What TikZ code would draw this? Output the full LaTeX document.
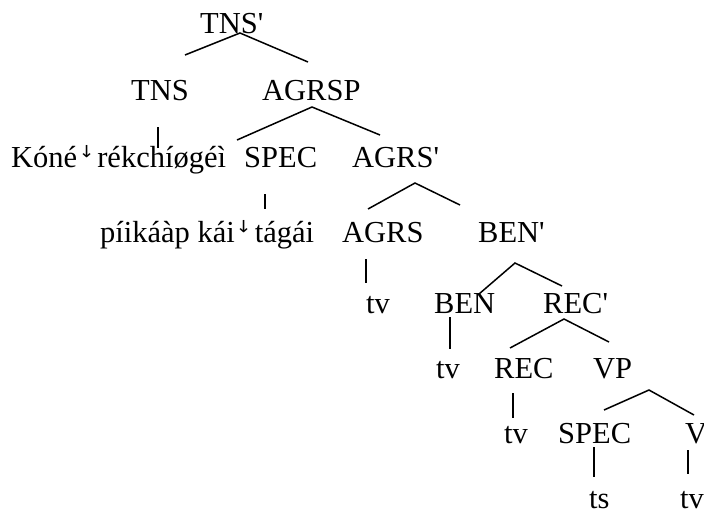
\documentclass[tikz,border=0pt]{standalone}
\usepackage{fontspec}
\setmainfont{Liberation Serif}
\newfontfamily\dvsans{DejaVu Sans}
\newcommand{\dstep}{\hspace{4pt}{\dvsans\fontsize{30}{30}\selectfont ꜜ}\hspace{5pt}}

\tikzset{
  lbl/.style={anchor=base west,inner sep=0pt,font=\fontsize{30.5}{36}\selectfont},
  br/.style={line width=1.5pt}
}

\begin{document}
\begin{tikzpicture}[x=1pt,y=-1pt]
\path[use as bounding box] (0,0) rectangle (704,515);
% labels
\node[lbl] (tnsp) at (200,33) {TNS\textquotesingle};
\node[lbl] (tns) at (131,100) {TNS};
\node[lbl] (agrsp) at (262,100) {AGRSP};
\node[lbl] (kone) at (11,167) {Kóné\dstep rékchíøgéì};
\node[lbl] (spec1) at (244,167) {SPEC};
\node[lbl] (agrsbar) at (352,167) {AGRS\textquotesingle};
\node[lbl] (piik) at (100,242) {píikáàp kái\dstep tágái};
\node[lbl] (agrs) at (342,242) {AGRS};
\node[lbl] (benbar) at (478,242) {BEN\textquotesingle};
\node[lbl] (tv1) at (366,313) {tv};
\node[lbl] (ben) at (434,313) {BEN};
\node[lbl] (recbar) at (543,313) {REC\textquotesingle};
\node[lbl] (tv2) at (436,378) {tv};
\node[lbl] (rec) at (494,378) {REC};
\node[lbl] (vp) at (593,378) {VP};
\node[lbl] (tv3) at (504,443) {tv};
\node[lbl] (spec2) at (558,443) {SPEC};
\node[lbl] (vbar) at (685,443) {V\textquotesingle};
\node[lbl] (ts) at (589,508) {ts};
\node[lbl] (tv4) at (680,508) {tv};
% branch points
\coordinate (tnsp-l) at (185,55);
\coordinate (tnsp-t) at (240,33);
\coordinate (tnsp-r) at (308,62);
\coordinate (tns-t) at (158,127);
\coordinate (tns-b) at (158,148);
\coordinate (agrsp-l) at (237,140);
\coordinate (agrsp-t) at (312,107);
\coordinate (agrsp-r) at (380,135);
\coordinate (spec1-t) at (265,194);
\coordinate (spec1-b) at (265,209);
\coordinate (agrsbar-l) at (368,209);
\coordinate (agrsbar-t) at (415,183);
\coordinate (agrsbar-r) at (460,205);
\coordinate (agrs-t) at (366,259);
\coordinate (agrs-b) at (366,283);
\coordinate (benbar-l) at (479,294);
\coordinate (benbar-t) at (515,263);
\coordinate (benbar-r) at (562,286);
\coordinate (ben-t) at (450,317);
\coordinate (ben-b) at (450,349);
\coordinate (recbar-l) at (510,348);
\coordinate (recbar-t) at (564,319);
\coordinate (recbar-r) at (609,342);
\coordinate (rec-t) at (513,393);
\coordinate (rec-b) at (513,418);
\coordinate (vp-l) at (604,410);
\coordinate (vp-t) at (649,390);
\coordinate (vp-r) at (694,415);
\coordinate (spec2-t) at (594,447);
\coordinate (spec2-b) at (594,477);
\coordinate (vbar-t) at (688,450);
\coordinate (vbar-b) at (688,474);
% branches
\draw[br] (tnsp-l) -- (tnsp-t) -- (tnsp-r);
\draw[br] (tns-t) -- (tns-b);
\draw[br] (agrsp-l) -- (agrsp-t) -- (agrsp-r);
\draw[br] (spec1-t) -- (spec1-b);
\draw[br] (agrsbar-l) -- (agrsbar-t) -- (agrsbar-r);
\draw[br] (agrs-t) -- (agrs-b);
\draw[br] (benbar-l) -- (benbar-t) -- (benbar-r);
\draw[br] (ben-t) -- (ben-b);
\draw[br] (recbar-l) -- (recbar-t) -- (recbar-r);
\draw[br] (rec-t) -- (rec-b);
\draw[br] (vp-l) -- (vp-t) -- (vp-r);
\draw[br] (spec2-t) -- (spec2-b);
\draw[br] (vbar-t) -- (vbar-b);
\end{tikzpicture}
\end{document}
